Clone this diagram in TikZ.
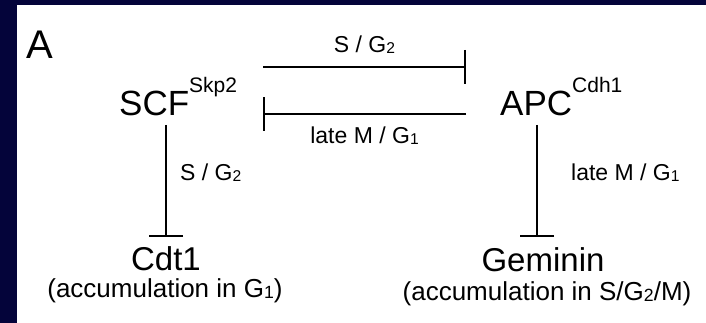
\documentclass[tikz,border=0pt]{standalone}
\usepackage{fontspec}
\setmainfont{Liberation Sans}
\usetikzlibrary{arrows.meta}

\definecolor{navy}{RGB}{4,4,58}
\newcommand*{\lowidx}[1]{\raisebox{-1pt}{\scalebox{0.68}{#1}}}
\newcommand*{\supname}[1]{\raisebox{23pt}{\fontsize{21}{24}\selectfont #1}}

\begin{document}
\begin{tikzpicture}
[
	x=1pt, y=1pt,
	protein/.style={anchor=base west,inner sep=0pt,font=\fontsize{35}{40}\selectfont},
	target/.style={anchor=base,inner sep=0pt,font=\fontsize{33}{38}\selectfont},
	phase/.style={anchor=base,inner sep=0pt,font=\fontsize{23}{26}\selectfont},
	sidephase/.style={anchor=base west,inner sep=0pt,font=\fontsize{23}{26}\selectfont},
	note/.style={anchor=base,inner sep=0pt,font=\fontsize{26}{30}\selectfont},
	inhibit/.style={line width=2.2pt,-{Bar[width=34pt,line width=2.2pt]}}
]

	% frame
	\fill[navy] (0,0) rectangle (706,323);
	\fill[white] (17,0) rectangle (706,318);
	\useasboundingbox (0,0) rectangle (706,323);

	% panel letter
	\node[anchor=base west,inner sep=0pt,font=\fontsize{40}{46}\selectfont] (panel) at (26,264) {A};

	% proteins
	\node[protein] (scf) at (119,207) {SCF\supname{Skp2}};
	\node[protein] (apc) at (500,207) {APC\supname{Cdh1}};
	\node[target] (cdt) at (166,52) {Cdt1};
	\node[target] (gem) at (543,51) {Geminin};
	\node[note] (cdtnote) at (165,25) {(accumulation in G\lowidx{1})};
	\node[note] (gemnote) at (547,22) {(accumulation in S/G\lowidx{2}/M)};

	% line ends
	\coordinate (scfout) at (263,256);
	\coordinate (apcin) at (466,256);
	\coordinate (apcout) at (466,209);
	\coordinate (scfin) at (263,209);
	\coordinate (scfdown) at (166,198);
	\coordinate (cdtup) at (166,86);
	\coordinate (apcdown) at (537,198);
	\coordinate (gemup) at (537,86);

	% inhibitions
	\draw[inhibit] (scfout) to node[phase,above=12pt] (topphase) {S / G\lowidx{2}} (apcin);
	\draw[inhibit] (apcout) to node[phase,below=12pt] (midphase) {late M / G\lowidx{1}} (scfin);
	\draw[inhibit] (scfdown) -- (cdtup);
	\draw[inhibit] (apcdown) -- (gemup);
	\node[sidephase] (leftphase) at (180,142) {S / G\lowidx{2}};
	\node[sidephase] (rightphase) at (571,142) {late M / G\lowidx{1}};

\end{tikzpicture}
\end{document}
